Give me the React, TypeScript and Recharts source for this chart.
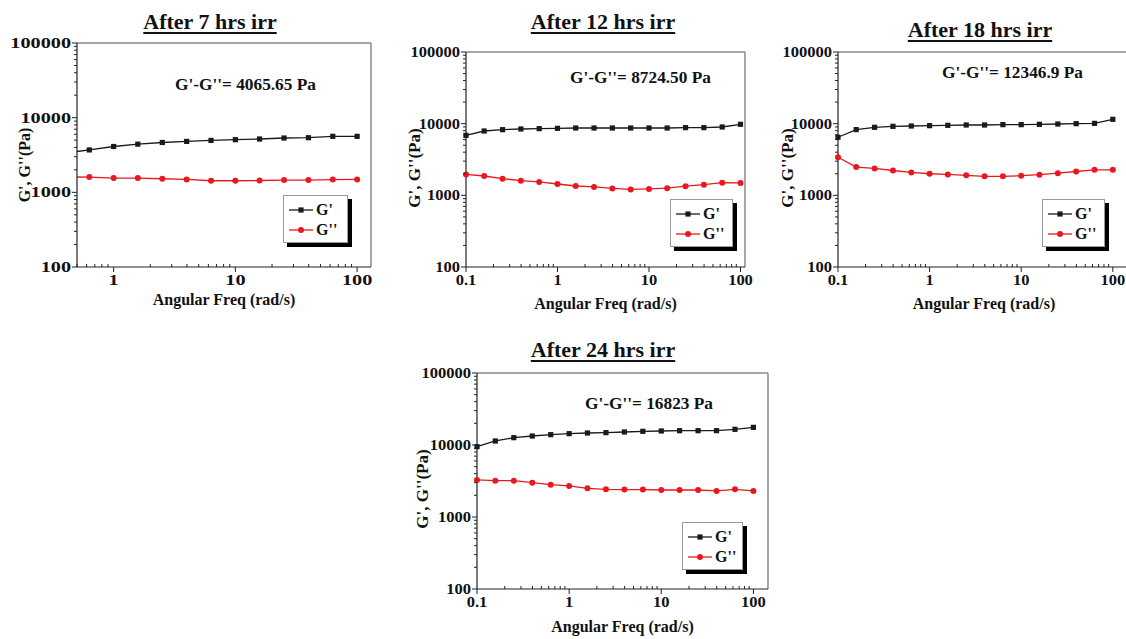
import { LineChart, Line, XAxis, YAxis, Legend, ReferenceLine } from 'recharts'

const FONT = '"Liberation Serif", "Times New Roman", serif'
const BLACK = '#1a1a1a'
const RED = '#e8191e'
const FRAME = '#8a8a8a'

// angular frequency sweep (rad/s), 5 points per decade
const FREQ = [0.1, 0.158, 0.251, 0.398, 0.631, 1, 1.58, 2.51, 3.98, 6.31, 10, 15.8, 25.1, 39.8, 63.1, 100]
// the 7 h panel starts its axis at 0.5, so only these points show
const FREQ_7H = [0.398, 0.631, 1, 1.58, 2.51, 3.98, 6.31, 10, 15.8, 25.1, 39.8, 63.1, 100]

// storage modulus G' and loss modulus G'' (Pa)
const G1_7H = [3360, 3700, 4110, 4420, 4650, 4810, 4960, 5070, 5180, 5340, 5390, 5620, 5620]
const G2_7H = [1610, 1600, 1550, 1550, 1520, 1490, 1430, 1430, 1440, 1460, 1460, 1480, 1490]

const G1_12H = [6870, 7900, 8250, 8430, 8520, 8610, 8700, 8700, 8700, 8700, 8700, 8700, 8800, 8800, 8990, 9790]
const G2_12H = [1960, 1860, 1710, 1600, 1540, 1440, 1350, 1310, 1250, 1210, 1230, 1260, 1340, 1410, 1500, 1490]

const G1_18H = [6460, 8260, 8890, 9180, 9280, 9380, 9480, 9580, 9580, 9690, 9690, 9790, 9890, 10000, 10100, 11500]
const G2_18H = [3400, 2480, 2370, 2220, 2090, 2000, 1960, 1900, 1840, 1840, 1880, 1940, 2040, 2150, 2270, 2270]

const G1_24H = [9480, 11370, 12640, 13330, 13920, 14370, 14680, 14840, 15160, 15490, 15650, 15810, 15810, 15810, 16510, 17580]
const G2_24H = [3270, 3200, 3200, 3000, 2810, 2700, 2500, 2420, 2400, 2400, 2370, 2370, 2370, 2300, 2420, 2300]

const X_MAJOR = [0.1, 1, 10, 100]
const Y_MAJOR = [100, 1000, 10000, 100000]
const Y_DOMAIN: [number, number] = [100, 100000]

function logTicks(majors: number[], min: number, max: number) {
  const out: number[] = []
  majors.forEach(m => {
    for (let k = 1; k < 10; k++) {
      const v = m * k
      if (v >= min * 0.9999 && v <= max * 1.0001) out.push(v)
    }
  })
  return out
}

const isMajor = (v: number) => Math.abs(Math.log10(v) - Math.round(Math.log10(v))) < 1e-6
const fmt = (v: number) => (v >= 1 ? String(Math.round(v)) : String(Number(v.toPrecision(2))))

function XTick(props: any) {
  const { x, y, payload, stretch } = props
  const major = isMajor(payload.value)
  return (
    <g>
      <line x1={x} x2={x} y1={y} y2={major ? y + 5 : y - 3} stroke="#222" strokeWidth={1} />
      {major && (
        <text
          transform={`translate(${x},${y + 17.5}) scale(${stretch},1)`}
          textAnchor="middle"
          fontFamily={FONT}
          fontWeight="bold"
          fontSize={15}
          fill="#111"
        >
          {fmt(payload.value)}
        </text>
      )}
    </g>
  )
}

function YTick(props: any) {
  const { x, y, payload, stretch } = props
  const major = isMajor(payload.value)
  return (
    <g>
      <line x1={x - (major ? 5 : 3)} x2={x} y1={y} y2={y} stroke="#222" strokeWidth={1} />
      {major && (
        <text
          transform={`translate(${x - 6},${y + 5}) scale(${stretch},1)`}
          textAnchor="end"
          fontFamily={FONT}
          fontWeight="bold"
          fontSize={15}
          fill="#111"
        >
          {fmt(payload.value)}
        </text>
      )}
    </g>
  )
}

const squareDot = (props: any) => {
  const { cx, cy, index } = props
  if (cx == null || cy == null) return <g key={`s-${index}`} />
  return <rect key={`s-${index}`} x={cx - 2.6} y={cy - 2.6} width={5.2} height={5.2} fill={BLACK} />
}

const circleDot = (props: any) => {
  const { cx, cy, index } = props
  if (cx == null || cy == null) return <g key={`c-${index}`} />
  return <circle key={`c-${index}`} cx={cx} cy={cy} r={3} fill={RED} />
}

function LegendRow({ color, square, label }: { color: string; square: boolean; label: string }) {
  return (
    <div style={{ display: 'flex', alignItems: 'center', height: 20 }}>
      <svg width={26} height={20} style={{ display: 'block' }}>
        <line x1={1} x2={25} y1={10} y2={10} stroke={color} strokeWidth={1.3} />
        {square ? <rect x={10.4} y={7.4} width={5.2} height={5.2} fill={color} /> : <circle cx={13} cy={10} r={3} fill={color} />}
      </svg>
      <span style={{ marginLeft: 2, color: '#111' }}>{label}</span>
    </div>
  )
}

type PanelProps = {
  title: string
  diff: string
  freq: number[]
  g1: number[]
  g2: number[]
  left: number
  top: number
  width: number
  height: number
  marginTop: number
  marginRight: number
  yWidth: number
  xHeight: number
  xDomain: [number, number]
  clip: boolean
  stretch: number
  titleX: number
  titleY: number
  diffX: number
  diffY: number
  legendX: number
  legendY: number
  legendW: number
  xLabelOffset: number
  yLabelX: number
  yLabelY: number
  yLabelSize: number
}

const PANELS: PanelProps[] = [
  {
    title: 'After 7 hrs irr', diff: "G'-G''= 4065.65 Pa", freq: FREQ_7H, g1: G1_7H, g2: G2_7H,
    left: 0, top: 0, width: 380, height: 320, marginTop: 43, marginRight: 9, yWidth: 77, xHeight: 53,
    xDomain: [0.5, 130], clip: true, stretch: 1.35,
    titleX: 210, titleY: 11, diffX: 175, diffY: 77, legendX: 283, legendY: 195, legendW: 65,
    xLabelOffset: 15, yLabelX: 25, yLabelY: 165, yLabelSize: 16,
  },
  {
    title: 'After 12 hrs irr', diff: "G'-G''= 8724.50 Pa", freq: FREQ, g1: G1_12H, g2: G2_12H,
    left: 395, top: 0, width: 360, height: 320, marginTop: 52, marginRight: 10, yWidth: 71, xHeight: 53,
    xDomain: [0.1, 112], clip: false, stretch: 1.1,
    titleX: 208, titleY: 11, diffX: 175, diffY: 70, legendX: 275, legendY: 199, legendW: 63,
    xLabelOffset: 11, yLabelX: 20, yLabelY: 168, yLabelSize: 17,
  },
  {
    title: 'After 18 hrs irr', diff: "G'-G''= 12346.9 Pa", freq: FREQ, g1: G1_18H, g2: G2_18H,
    left: 770, top: 0, width: 370, height: 320, marginTop: 52, marginRight: 10, yWidth: 68, xHeight: 53,
    xDomain: [0.1, 154], clip: false, stretch: 1.1,
    titleX: 210, titleY: 19, diffX: 172, diffY: 65, legendX: 272, legendY: 199, legendW: 63,
    xLabelOffset: 11, yLabelX: 18, yLabelY: 168, yLabelSize: 17,
  },
  {
    title: 'After 24 hrs irr', diff: "G'-G''= 16823 Pa", freq: FREQ, g1: G1_24H, g2: G2_24H,
    left: 400, top: 330, width: 380, height: 310, marginTop: 43, marginRight: 12, yWidth: 77, xHeight: 51,
    xDomain: [0.1, 144], clip: false, stretch: 1.1,
    titleX: 203, titleY: 9, diffX: 185, diffY: 66, legendX: 282, legendY: 192, legendW: 61,
    xLabelOffset: 8, yLabelX: 23, yLabelY: 159, yLabelSize: 17,
  },
]

const labelStyle = { fontFamily: FONT, fontWeight: 'bold', fontSize: 16, fill: '#111' }

function Panel(p: PanelProps) {
  const rows = p.freq.map((f, i) => ({ f, g1: p.g1[i], g2: p.g2[i] }))
  const xTicks = logTicks(X_MAJOR, p.xDomain[0], p.xDomain[1])
  const yTicks = logTicks(Y_MAJOR, Y_DOMAIN[0], Y_DOMAIN[1])

  return (
    <div style={{ position: 'absolute', left: p.left, top: p.top, width: p.width, height: p.height }}>
      <LineChart
        width={p.width}
        height={p.height}
        data={rows}
        margin={{ top: p.marginTop, right: p.marginRight, bottom: 0, left: 0 }}
      >
        <XAxis
          dataKey="f"
          type="number"
          scale="log"
          domain={p.xDomain}
          allowDataOverflow={p.clip}
          ticks={xTicks}
          interval={0}
          height={p.xHeight}
          tickSize={0}
          tickMargin={0}
          tickLine={false}
          axisLine={{ stroke: '#222', strokeWidth: 1.2 }}
          tick={(t: any) => <XTick {...t} stretch={p.stretch} />}
          label={{ value: 'Angular Freq (rad/s)', position: 'insideBottom', offset: p.xLabelOffset, style: labelStyle }}
        />
        <YAxis
          type="number"
          scale="log"
          domain={Y_DOMAIN}
          allowDataOverflow
          ticks={yTicks}
          interval={0}
          width={p.yWidth}
          tickSize={0}
          tickMargin={0}
          tickLine={false}
          axisLine={{ stroke: '#222', strokeWidth: 1.2 }}
          tick={(t: any) => <YTick {...t} stretch={p.stretch} />}
        />
        {/* grey frame on the top and right of the plot */}
        <ReferenceLine y={Y_DOMAIN[1]} stroke={FRAME} strokeWidth={1.5} ifOverflow="visible" />
        <ReferenceLine x={p.xDomain[1]} stroke={FRAME} strokeWidth={1.5} ifOverflow="visible" />
        <Line
          type="linear"
          dataKey="g1"
          name="G'"
          stroke={BLACK}
          strokeWidth={1.3}
          dot={squareDot}
          activeDot={false}
          isAnimationActive={false}
        />
        <Line
          type="linear"
          dataKey="g2"
          name="G''"
          stroke={RED}
          strokeWidth={1.3}
          dot={circleDot}
          activeDot={false}
          isAnimationActive={false}
        />
        <Legend
          layout="vertical"
          align="center"
          verticalAlign="middle"
          wrapperStyle={{ position: 'absolute', left: p.legendX, top: p.legendY, width: p.legendW + 5, height: 52 }}
          content={() => (
            <div
              style={{
                width: p.legendW,
                height: 48,
                boxSizing: 'border-box',
                border: '1px solid #9a9a9a',
                background: '#fff',
                boxShadow: '4px 4px 0 #000',
                padding: '4px 0 0 4px',
                fontFamily: FONT,
                fontWeight: 'bold',
                fontSize: 16,
              }}
            >
              <LegendRow color={BLACK} square label="G'" />
              <LegendRow color={RED} square={false} label="G''" />
            </div>
          )}
        />
      </LineChart>

      <div
        style={{
          position: 'absolute',
          left: p.yLabelX - 60,
          top: p.yLabelY - 10,
          width: 120,
          height: 20,
          lineHeight: '20px',
          textAlign: 'center',
          fontFamily: FONT,
          fontWeight: 'bold',
          fontSize: p.yLabelSize,
          color: '#111',
          whiteSpace: 'nowrap',
          transform: 'rotate(-90deg)',
        }}
      >
        G', G''(Pa)
      </div>
      <div
        style={{
          position: 'absolute',
          left: p.titleX - 120,
          top: p.titleY,
          width: 240,
          textAlign: 'center',
          fontFamily: FONT,
          fontWeight: 'bold',
          fontSize: 22,
          lineHeight: '22px',
          color: '#111',
          textDecoration: 'underline',
          textDecorationThickness: 2,
          textUnderlineOffset: 3,
        }}
      >
        {p.title}
      </div>
      <div
        style={{
          position: 'absolute',
          left: p.diffX,
          top: p.diffY,
          fontFamily: FONT,
          fontWeight: 'bold',
          fontSize: 16,
          lineHeight: '16px',
          color: '#111',
          whiteSpace: 'nowrap',
          transform: 'scaleX(1.08)',
          transformOrigin: 'left center',
        }}
      >
        {p.diff}
      </div>
    </div>
  )
}

export default function App() {
  return (
    <div
      style={{
        position: 'absolute',
        left: 0,
        top: 0,
        width: 1126,
        height: 639,
        overflow: 'hidden',
        background: '#fff',
      }}
    >
      {PANELS.map(p => (
        <Panel key={p.title} {...p} />
      ))}
    </div>
  )
}
